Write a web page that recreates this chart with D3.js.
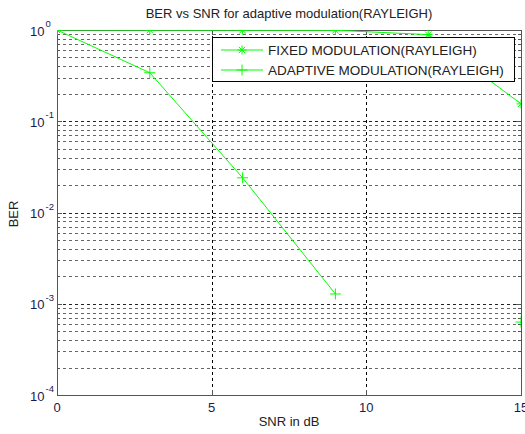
<!doctype html>
<html>
<head>
<script src="https://cdn.jsdelivr.net/npm/d3@7/dist/d3.min.js"></script>
<style>
  body { margin: 0; background: #fff; }
  svg { font-family: "Liberation Sans", Arial, sans-serif; }
</style>
</head>
<body>
<svg width="525" height="434"></svg>
<script>
// data
var snr = [0, 3, 6, 9, 12, 15];
var berFixed = [1, 0.998, 0.996, 0.993, 0.89, 0.155];
var berAdaptive = [1, 0.34, 0.024, 0.00128, NaN, 0.00063];
var xTicks = [0, 5, 10, 15];
var yExps = [0, -1, -2, -3, -4];

var svg = d3.select("svg");
var m = {left: 57, right: 521, top: 30, bottom: 395};

var x = d3.scaleLinear().domain([0, 15]).range([m.left, m.right]);
var y = d3.scaleLog().domain([1e-4, 1]).range([m.bottom, m.top]);

var green = "#00ff00";

svg.append("clipPath").attr("id", "clip").append("rect")
  .attr("x", m.left).attr("y", m.top).attr("width", m.right - m.left).attr("height", m.bottom - m.top);

// grid
var minor = [];
for (var e = -4; e < 0; e++) for (var k = 2; k <= 9; k++) minor.push(k * Math.pow(10, e));
var g = svg.append("g");
g.selectAll(".gm").data(minor).enter().append("line")
  .attr("x1", m.left).attr("x2", m.right)
  .attr("y1", d => Math.round(y(d)) + 0.5).attr("y2", d => Math.round(y(d)) + 0.5)
  .attr("stroke", "#666").attr("stroke-dasharray", "3,3");
g.selectAll(".gM").data(yExps.slice(1, 4)).enter().append("line")
  .attr("x1", m.left).attr("x2", m.right)
  .attr("y1", d => Math.round(y(Math.pow(10, d))) + 0.5).attr("y2", d => Math.round(y(Math.pow(10, d))) + 0.5)
  .attr("stroke", "#222").attr("stroke-dasharray", "3,3");
g.selectAll(".gx").data([5, 10]).enter().append("line")
  .attr("x1", d => Math.round(x(d)) + 0.5).attr("x2", d => Math.round(x(d)) + 0.5)
  .attr("y1", m.top).attr("y2", m.bottom)
  .attr("stroke", "#000").attr("stroke-dasharray", "3,3");

// ticks inside the box
var tk = svg.append("g").attr("stroke", "#555");
yExps.forEach(function(d) {
  var yy = Math.round(y(Math.pow(10, d))) + 0.5;
  tk.append("line").attr("x1", m.left).attr("x2", m.left + 5).attr("y1", yy).attr("y2", yy);
  tk.append("line").attr("x1", m.right - 5).attr("x2", m.right).attr("y1", yy).attr("y2", yy);
});
minor.forEach(function(d) {
  var yy = Math.round(y(d)) + 0.5;
  tk.append("line").attr("x1", m.left).attr("x2", m.left + 3).attr("y1", yy).attr("y2", yy);
  tk.append("line").attr("x1", m.right - 3).attr("x2", m.right).attr("y1", yy).attr("y2", yy);
});
xTicks.forEach(function(d) {
  var xx = Math.round(x(d)) + 0.5;
  tk.append("line").attr("x1", xx).attr("x2", xx).attr("y1", m.bottom).attr("y2", m.bottom - 5);
  tk.append("line").attr("x1", xx).attr("x2", xx).attr("y1", m.top).attr("y2", m.top + 5);
});

// box
svg.append("rect").attr("x", m.left + 0.5).attr("y", m.top + 0.5)
  .attr("width", m.right - m.left).attr("height", m.bottom - m.top)
  .attr("fill", "none").attr("stroke", "#555");

// tick labels
var lab = svg.append("g").attr("font-size", 13).attr("fill", "#1a1a50");
yExps.forEach(function(d) {
  var yy = y(Math.pow(10, d));
  lab.append("text").attr("x", 44.5).attr("y", yy + 5.5).attr("text-anchor", "end").text("10");
  lab.append("text").attr("x", 45.5).attr("y", yy - 3).attr("font-size", 9.5).text(d === 0 ? "0" : d);
});
xTicks.forEach(function(d) {
  lab.append("text").attr("x", x(d)).attr("y", 412).attr("text-anchor", "middle").text(d);
});

svg.append("text").attr("x", (m.left + m.right) / 2).attr("y", 18).attr("text-anchor", "middle")
  .attr("font-size", 13).attr("fill", "#222").text("BER vs SNR for adaptive modulation(RAYLEIGH)");
svg.append("text").attr("x", (m.left + m.right) / 2).attr("y", 426).attr("text-anchor", "middle")
  .attr("font-size", 13).attr("fill", "#222").text("SNR in dB");
svg.append("text").attr("transform", "translate(17.5,214) rotate(-90)").attr("text-anchor", "middle")
  .attr("font-size", 13).attr("fill", "#222").text("BER");

// series
var line = d3.line().defined(d => !isNaN(d[1])).x(d => x(d[0])).y(d => y(d[1]));
var plot = svg.append("g").attr("clip-path", "url(#clip)");

function star(sel, s) {
  sel.each(function() {
    var gg = d3.select(this);
    gg.append("line").attr("x1", -s).attr("x2", s).attr("y1", 0).attr("y2", 0);
    gg.append("line").attr("x1", 0).attr("x2", 0).attr("y1", -s).attr("y2", s);
    gg.append("line").attr("x1", -s * 0.7).attr("x2", s * 0.7).attr("y1", -s * 0.7).attr("y2", s * 0.7);
    gg.append("line").attr("x1", -s * 0.7).attr("x2", s * 0.7).attr("y1", s * 0.7).attr("y2", -s * 0.7);
  });
}
function plus(sel, s) {
  sel.each(function() {
    var gg = d3.select(this);
    gg.append("line").attr("x1", -s).attr("x2", s).attr("y1", 0).attr("y2", 0);
    gg.append("line").attr("x1", 0).attr("x2", 0).attr("y1", -s).attr("y2", s);
  });
}

var fixedPts = snr.map((s, i) => [s, berFixed[i]]);
var adPts = snr.map((s, i) => [s, berAdaptive[i]]);

plot.append("path").datum(fixedPts).attr("d", line).attr("fill", "none").attr("stroke", green);
plot.append("path").datum(adPts).attr("d", line).attr("fill", "none").attr("stroke", green);
plot.selectAll(".fs").data(fixedPts).enter().append("g")
  .attr("transform", d => "translate(" + x(d[0]) + "," + y(d[1]) + ")")
  .attr("stroke", green).call(star, 4.5);
plot.selectAll(".as").data(adPts.filter(d => !isNaN(d[1]))).enter().append("g")
  .attr("transform", d => "translate(" + x(d[0]) + "," + y(d[1]) + ")")
  .attr("stroke", green).call(plus, 5.5);

// legend
var lg = svg.append("g");
lg.append("rect").attr("x", 212.5).attr("y", 37.5).attr("width", 302).attr("height", 44)
  .attr("fill", "#fff").attr("stroke", "#000");
var names = ["FIXED MODULATION(RAYLEIGH)", "ADAPTIVE MODULATION(RAYLEIGH)"];
names.forEach(function(n, i) {
  var yy = 50 + i * 20;
  lg.append("line").attr("x1", 221).attr("x2", 263).attr("y1", yy).attr("y2", yy).attr("stroke", green);
  var mk = lg.append("g").attr("transform", "translate(242," + yy + ")").attr("stroke", green);
  if (i === 0) star(mk, 4.5); else plus(mk, 5.5);
  lg.append("text").attr("x", 268).attr("y", yy + 5).attr("font-size", 13.5).attr("fill", "#222").text(n);
});
</script>
</body>
</html>
